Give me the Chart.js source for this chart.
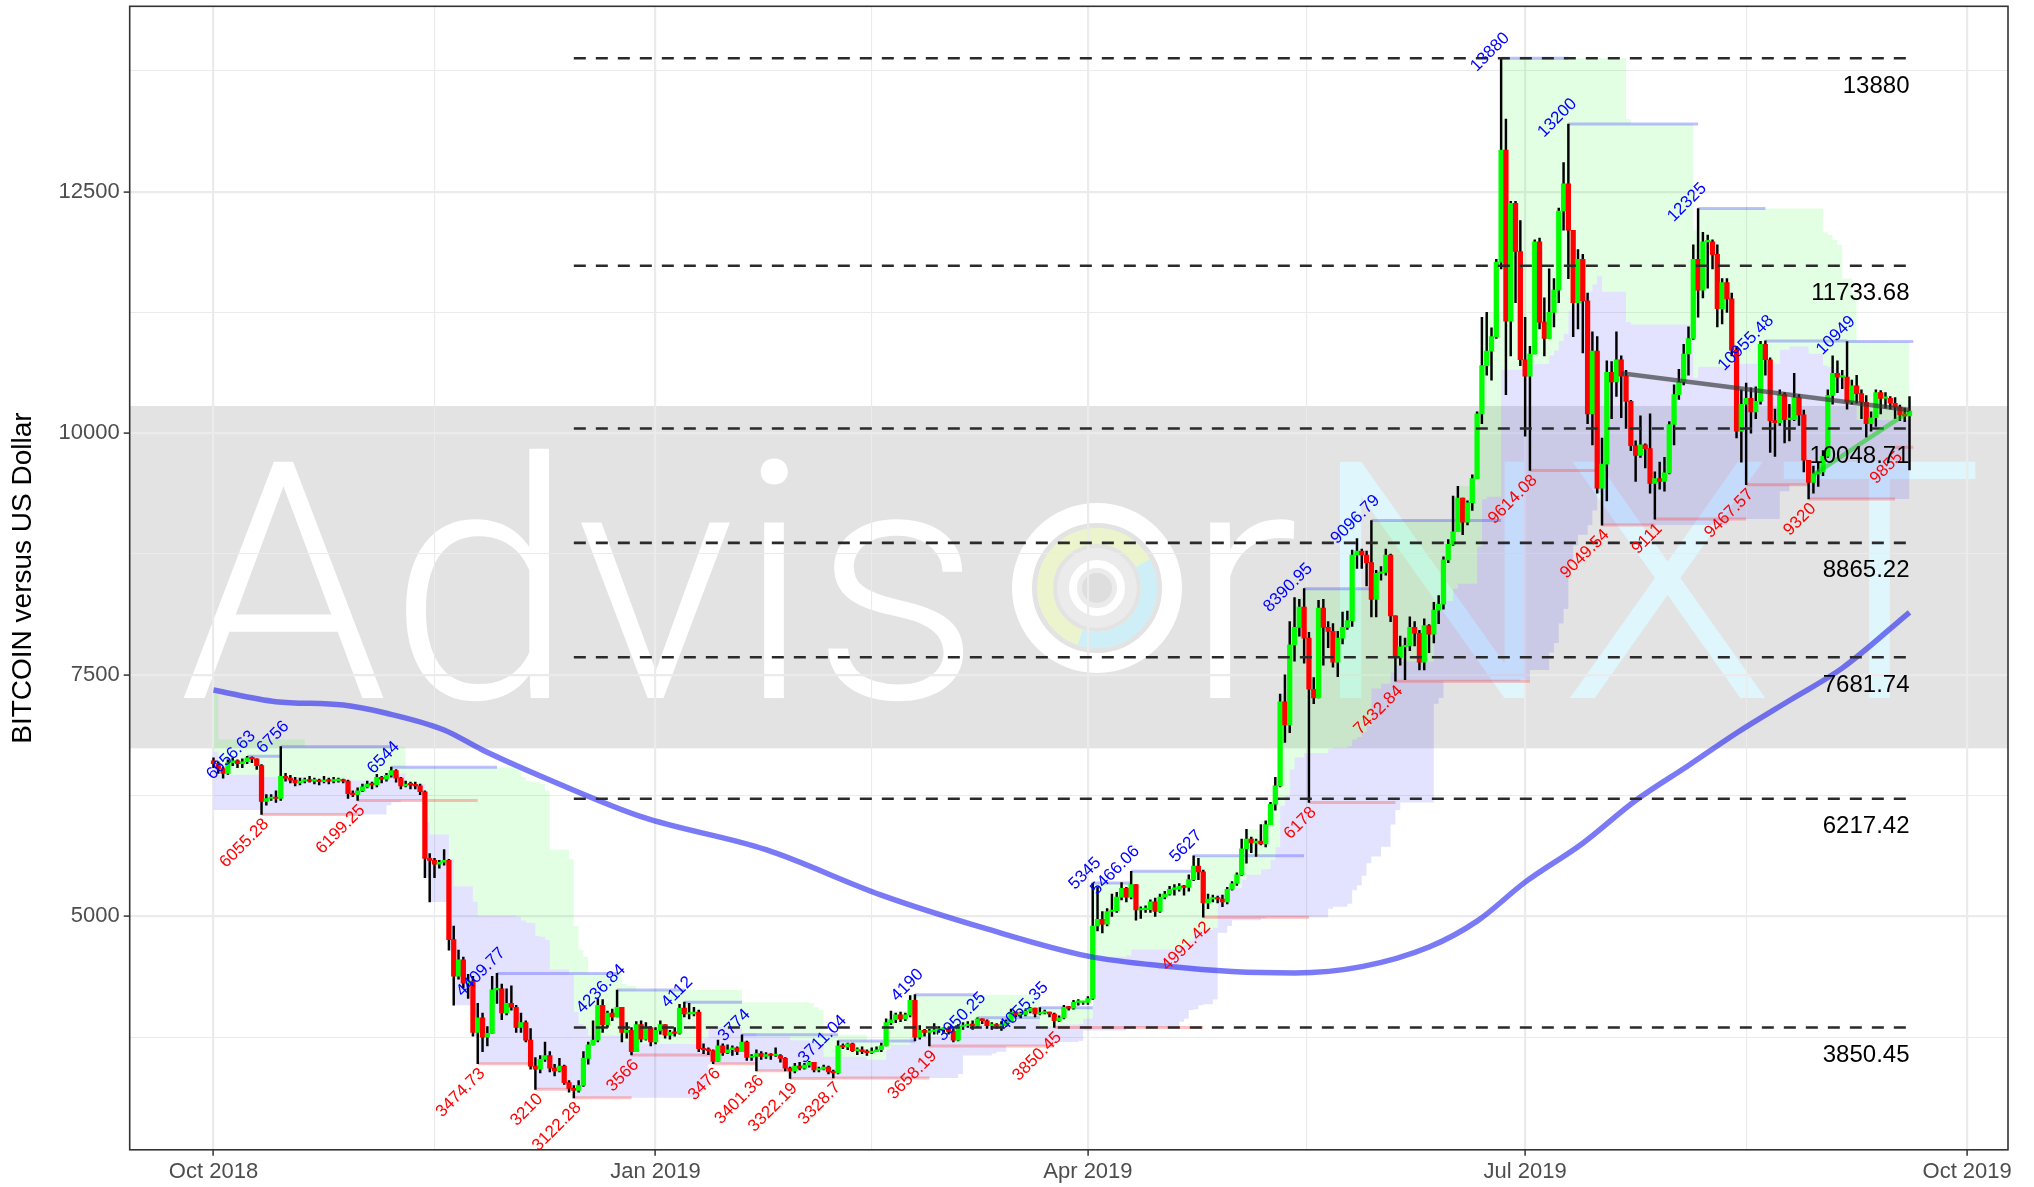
<!DOCTYPE html>
<html>
<head>
<meta charset="utf-8">
<title>BITCOIN versus US Dollar</title>
<script src="https://cdn.jsdelivr.net/npm/chart.js@4.4.1/dist/chart.umd.min.js"></script>
<style>
  html, body { margin: 0; padding: 0; background: #ffffff; }
  canvas { display: block; }
</style>
</head>
<body>
<canvas id="btcChart" width="2034" height="1187"></canvas>
<script>
// day 0 = 1 Oct 2018, one candle a day up to 19 Sep 2019 (day 353)
const firstOpen = 6610;

const closes = [
  // Oct 2018
  6580, 6530, 6480, 6590, 6610, 6580, 6600, 6640, 6630, 6560, 6190, 6220, 6230, 6220, 6450, 6430, 6410, 6380, 6400, 6410, 6400, 6405, 6395, 6410, 6400, 6405, 6410, 6400, 6270, 6260, 6300,
  // Nov
  6340, 6370, 6360, 6440, 6420, 6460, 6510, 6430, 6350, 6370, 6360, 6350, 6290, 5600, 5580, 5540, 5560, 5580, 4760, 4380, 4550, 4310, 4330, 3800, 3950, 3750, 3790, 4240, 4250, 4000,
  // Dec
  4100, 4060, 3850, 3900, 3720, 3450, 3420, 3520, 3560, 3430, 3400, 3450, 3280, 3220, 3200, 3250, 3530, 3670, 3720, 4080, 3880, 4000, 3960, 4060, 3800, 3820, 3600, 3880, 3730, 3850, 3700,
  // Jan 2019
  3820, 3880, 3770, 3800, 3790, 4050, 3990, 3990, 4010, 3630, 3620, 3610, 3500, 3660, 3590, 3620, 3640, 3600, 3700, 3540, 3550, 3580, 3550, 3570, 3560, 3560, 3530, 3430, 3400, 3450, 3430,
  // Feb
  3460, 3490, 3410, 3420, 3440, 3390, 3380, 3660, 3650, 3680, 3610, 3620, 3600, 3590, 3600, 3620, 3660, 3900, 3930, 3980, 3940, 3980, 4130, 3750, 3820, 3800, 3810, 3820,
  // Mar
  3830, 3840, 3810, 3720, 3860, 3870, 3880, 3870, 3940, 3920, 3870, 3880, 3865, 3870, 3910, 4010, 3980, 3985, 4020, 4050, 3990, 4000, 4010, 3990, 3920, 3950, 4060, 4050, 4110, 4110, 4110,
  // Apr
  4150, 4900, 4970, 4920, 5050, 5060, 5200, 5290, 5200, 5330, 5066, 5070, 5070, 5150, 5050, 5200, 5230, 5280, 5280, 5310, 5300, 5380, 5520, 5460, 5140, 5180, 5190, 5180, 5150, 5280,
  // May
  5340, 5430, 5700, 5800, 5760, 5780, 5750, 5950, 6160, 6350, 7220, 6980, 7810, 7990, 8200, 7880, 7350, 7260, 8190, 7990, 7950, 7630, 7880, 7990, 8060, 8740, 8780, 8740, 8660, 8280, 8550,
  // Jun
  8560, 8740, 8110, 7680, 7790, 7800, 7990, 7930, 7630, 8010, 7920, 8170, 8230, 8690, 8850, 8980, 9330, 9080, 9280, 9530, 10200, 10700, 10850, 11000, 11770, 12930, 11160, 12380, 11880, 10760,
  // Jul
  10590, 10820, 11980, 11150, 10980, 11250, 11480, 12300, 12580, 12100, 11350, 11800, 11370, 10200, 10850, 9430, 9680, 10630, 10530, 10760, 10590, 10330, 9870, 9770, 9880, 9840, 9480, 9530, 9500, 9590, 10090,
  // Aug
  10400, 10530, 10820, 10980, 11800, 11480, 11980, 11980, 11850, 11290, 11560, 11390, 10860, 10020, 10300, 10360, 10220, 10330, 10920, 10760, 10130, 10110, 10400, 10140, 10140, 10370, 10190, 9720, 9490, 9580, 9600,
  // Sep
  9760, 10390, 10620, 10580, 10580, 10320, 10490, 10410, 10320, 10100, 10160, 10420, 10360, 10360, 10310, 10270, 10190, 10180, 10230
];

const highs = [
  6640, 6600, 6545, 6620, 6640, 6620, 6630, 6656.63, 6650, 6630, 6570, 6260, 6260, 6300, 6756, 6480, 6460, 6440, 6430, 6430, 6450, 6430, 6420, 6450, 6430, 6440, 6430, 6420, 6410, 6300, 6330,
  6370, 6400, 6390, 6470, 6450, 6480, 6544, 6520, 6440, 6400, 6390, 6390, 6370, 6300, 5650, 5600, 5580, 5690, 5590, 4900, 4650, 4580, 4400, 4380, 4100, 4000, 3860, 4380, 4409.77, 4300,
  4250, 4280, 4080, 4000, 3920, 3840, 3540, 3560, 3700, 3600, 3470, 3530, 3460, 3300, 3250, 3300, 3600, 3700, 3920, 4150, 4140, 4020, 4040, 4236.84, 4060, 3900, 3850, 3910, 3920, 3900, 3860,
  3850, 3920, 3880, 3820, 3850, 4090, 4112, 4100, 4060, 4030, 3680, 3640, 3620, 3720, 3680, 3670, 3660, 3650, 3774, 3710, 3570, 3620, 3600, 3590, 3580, 3640, 3570, 3540, 3440, 3480, 3490,
  3480, 3500, 3490, 3440, 3460, 3450, 3410, 3711.04, 3680, 3690, 3690, 3640, 3650, 3620, 3640, 3650, 3690, 3940, 4020, 4000, 4010, 4000, 4180, 4190, 3870, 3830, 3830, 3890,
  3860, 3850, 3850, 3830, 3880, 3900, 3910, 3920, 3950.25, 3940, 3930, 3900, 3890, 3910, 3930, 4040, 4010, 4010, 4030, 4060, 4052, 4055.35, 4030, 4010, 4000, 3970, 4080, 4070, 4130, 4140, 4120,
  4170, 5345, 5300, 5050, 5080, 5230, 5250, 5350, 5300, 5466.06, 5330, 5100, 5110, 5170, 5190, 5230, 5260, 5310, 5330, 5340, 5320, 5430, 5627, 5600, 5480, 5230, 5220, 5210, 5220, 5300,
  5360, 5450, 5800, 5900, 5820, 5800, 5950, 5990, 6180, 6440, 7300, 7500, 8050, 8300, 8280, 8390.95, 7940, 7470, 8270, 8280, 8050, 8030, 7950, 8150, 8160, 8790, 8910, 8800, 8780, 9096.79, 8580,
  8620, 8800, 8750, 8110, 7900, 7880, 8100, 8050, 7960, 8080, 8020, 8250, 8320, 8720, 8900, 9350, 9450, 9330, 9300, 9570, 10220, 11200, 11250, 11090, 11800, 13880, 13250, 12400, 12400, 12200,
  11200, 10900, 12000, 12020, 11400, 11700, 11600, 12330, 12800, 13200, 12100, 11900, 11850, 11450, 11050, 11000, 9950, 10750, 10740, 11050, 10800, 10650, 10340, 9920, 10180, 9890, 10200, 9600, 9700, 9750, 10120,
  10500, 10660, 10920, 11100, 11950, 12325, 12080, 12050, 12000, 11950, 11600, 11600, 11450, 10900, 10450, 10520, 10470, 10480, 10950, 10955.48, 10780, 10250, 10450, 10420, 10300, 10620, 10400, 10240, 9720, 9660, 9700,
  9820, 10450, 10800, 10750, 10650, 10949, 10550, 10600, 10450, 10390, 10220, 10450, 10440, 10420, 10380, 10370, 10290, 10260, 10380
];

const lows = [
  6540, 6480, 6430, 6470, 6560, 6540, 6540, 6580, 6590, 6520, 6055.28, 6150, 6200, 6180, 6200, 6400, 6380, 6350, 6360, 6380, 6390, 6370, 6360, 6380, 6370, 6380, 6390, 6380, 6220, 6240, 6199.25,
  6290, 6330, 6320, 6340, 6380, 6400, 6440, 6390, 6320, 6340, 6320, 6320, 6260, 5400, 5150, 5400, 5500, 5530, 4650, 4080, 4350, 4260, 4150, 3760, 3474.73, 3600, 3660, 3790, 4100, 3930,
  3980, 4030, 3800, 3800, 3700, 3420, 3210, 3380, 3500, 3390, 3350, 3390, 3260, 3180, 3122.28, 3180, 3240, 3470, 3670, 3700, 3800, 3850, 3920, 3960, 3700, 3740, 3566, 3600, 3700, 3720, 3660,
  3680, 3780, 3740, 3730, 3760, 3780, 3960, 3940, 3970, 3600, 3580, 3570, 3476, 3500, 3560, 3580, 3560, 3570, 3600, 3510, 3510, 3401.36, 3520, 3530, 3520, 3550, 3490, 3400, 3322.19, 3380, 3410,
  3420, 3440, 3390, 3390, 3410, 3370, 3328.7, 3370, 3630, 3620, 3600, 3570, 3580, 3560, 3580, 3600, 3600, 3660, 3880, 3900, 3910, 3920, 3960, 3710, 3730, 3760, 3658.19, 3780,
  3800, 3800, 3780, 3700, 3710, 3830, 3850, 3830, 3860, 3890, 3840, 3830, 3840, 3820, 3860, 3910, 3960, 3950, 3970, 4000, 3960, 3980, 3990, 3960, 3850.45, 3910, 3940, 4030, 4040, 4080, 4090,
  4090, 4140, 4850, 4830, 4900, 5000, 5040, 5170, 5150, 5180, 4960, 4980, 5040, 5040, 5000, 5040, 5180, 5220, 5220, 5260, 5220, 5260, 5370, 5380, 4991.42, 5080, 5150, 5140, 5100, 5130,
  5270, 5320, 5420, 5550, 5660, 5620, 5740, 5720, 5950, 6100, 6340, 6800, 6900, 7640, 7900, 7620, 6178, 7200, 7260, 7600, 7780, 7580, 7480, 7820, 7970, 8000, 8600, 8600, 8420, 8100, 8100,
  8480, 8530, 8050, 7432.84, 7600, 7450, 7750, 7800, 7550, 7550, 7730, 7830, 8030, 8180, 8660, 8840, 8980, 8950, 9050, 9200, 9530, 10100, 10600, 10550, 10980, 11700, 10400, 10800, 11350, 10700,
  9970, 9614.08, 10820, 11080, 10800, 10980, 11100, 11350, 12100, 11600, 11000, 11080, 10830, 10100, 9880, 9380, 9049.54, 9300, 10150, 10380, 10160, 10050, 9820, 9500, 9750, 9640, 9380, 9111, 9420, 9400, 9580,
  9880, 10350, 10500, 10600, 10970, 11200, 11400, 11500, 11700, 11100, 11130, 11250, 10800, 9950, 9700, 9467.57, 10000, 10150, 10300, 10600, 9800, 9760, 10080, 9900, 9920, 10130, 10080, 9600, 9320, 9380, 9450,
  9560, 9750, 10300, 10420, 10460, 10250, 10300, 10310, 10150, 9960, 10020, 10070, 10200, 10260, 10250, 10150, 10130, 10120, 9620
];

// 200-day moving average
const maDays = [0, 13, 27, 36, 48, 56, 70, 89, 115, 139, 161, 182, 199, 212, 225, 239, 253, 263, 273, 285, 296, 307, 317, 328, 339, 353];
const maVals = [7343, 7222, 7187, 7102, 6929, 6722, 6411, 6032, 5690, 5220, 4870, 4589, 4481, 4430, 4415, 4480, 4683, 4951, 5354, 5757, 6200, 6562, 6898, 7234, 7569, 8147];

// 26-day channel, breakpoints (value holds until the next day listed)
const upperDays = [0, 1, 19, 40, 63, 64, 65, 66, 68, 69, 70, 74, 75, 76, 77, 78, 85, 86, 88, 110, 124, 125, 126, 127, 136, 140, 141, 145, 146, 172, 183, 191, 204, 214, 215, 218, 220, 221, 222, 223, 224, 225, 227, 241, 258, 259, 263, 264, 265, 268, 294, 295, 308, 309, 335, 336, 337, 338, 339, 341, 342, 349, 353];
const upperVals = [7310, 6830, 6756, 6544, 6520, 6440, 6400, 6390, 6370, 6300, 5690, 5590, 4900, 4650, 4580, 4409.77, 4300, 4280, 4236.84, 4112, 4100, 4060, 4030, 3774, 3711.04, 3940, 4020, 4180, 4190, 4060, 5345, 5466.06, 5627, 5800, 5900, 5990, 6180, 6440, 7300, 7500, 8050, 8300, 8390.95, 9096.79, 9350, 9450, 10220, 11200, 11250, 13880, 13250, 13200, 12100, 12325, 12080, 12050, 12000, 11950, 11600, 11450, 10955.48, 10949, 10949];
const lowerDays = [0, 10, 36, 37, 39, 44, 45, 49, 50, 54, 55, 67, 75, 101, 102, 103, 104, 113, 120, 146, 155, 156, 162, 163, 165, 175, 180, 181, 190, 201, 202, 203, 204, 205, 206, 208, 209, 211, 212, 218, 219, 232, 233, 236, 237, 238, 239, 240, 241, 243, 245, 246, 247, 254, 255, 256, 272, 274, 278, 279, 280, 281, 282, 283, 284, 286, 287, 288, 289, 315, 326, 328, 332, 353];
const lowerVals = [6100, 6055.28, 6150, 6180, 6199.25, 5400, 5150, 4650, 4080, 3760, 3474.73, 3210, 3122.28, 3180, 3240, 3470, 3476, 3401.36, 3322.19, 3328.7, 3370, 3560, 3580, 3600, 3658.19, 3700, 3710, 3820, 3850.45, 3910, 3940, 4030, 4040, 4080, 4090, 4140, 4830, 4900, 4960, 4980, 4991.42, 5080, 5100, 5130, 5270, 5320, 5420, 5550, 5620, 5720, 5950, 6100, 6178, 7200, 7260, 7432.84, 7450, 7550, 7730, 7830, 8030, 8180, 8660, 8840, 8950, 9050, 9200, 9380, 9049.54, 9111, 9400, 9467.57, 9320, 9320];

// swing highs / lows with their labels
const hiDays = [7, 14, 37, 59, 84, 98, 110, 130, 146, 159, 172, 183, 191, 204, 227, 241, 268, 282, 309, 323, 340];
const hiVals = [6656.63, 6756, 6544, 4409.77, 4236.84, 4112, 3774, 3711.04, 4190, 3950.25, 4055.35, 5345, 5466.06, 5627, 8390.95, 9096.79, 13880, 13200, 12325, 10955.48, 10949];
const loDays = [10, 30, 55, 67, 75, 87, 104, 113, 120, 129, 149, 175, 206, 228, 246, 274, 289, 300, 319, 332, 350];
const loVals = [6055.28, 6199.25, 3474.73, 3210, 3122.28, 3566, 3476, 3401.36, 3322.19, 3328.7, 3658.19, 3850.45, 4991.42, 6178, 7432.84, 9614.08, 9049.54, 9111, 9467.57, 9320, 9855];

// retracement levels
const fibLevels = [13880, 11733.68, 10048.71, 8865.22, 7681.74, 6217.42, 3850.45];
const fibFrom = 75, fibTo = 353;

// trend lines
const trendDays = [293, 353];
const trendVals = [10620, 10240];
const riseDays = [333, 353];
const riseVals = [9570, 10225];

// grey banner behind the watermark
const bannerRange = [6739, 10282];

// axes
const yMajor = [5000, 7500, 10000, 12500];
const yMinor = [3750, 6250, 8750, 11250, 13750];
const xTickDays = [0, 92, 182, 273, 365];
const xTickLabels = ['Oct 2018', 'Jan 2019', 'Apr 2019', 'Jul 2019', 'Oct 2019'];
const xMinorDays = [46, 137, 227.5, 319];
const xMin = -17.44, xMax = 373.5;

if (closes.length !== highs.length || closes.length !== lows.length) {
  throw new Error('ohlc length mismatch ' + closes.length + ' ' + highs.length + ' ' + lows.length);
}
const opens = closes.map((c, i) => (i === 0 ? firstOpen : closes[i - 1]));
opens.forEach((o, i) => {
  const top = Math.max(o, closes[i]), bot = Math.min(o, closes[i]);
  if (highs[i] < top || lows[i] > bot) throw new Error('bad candle at day ' + i);
});

const lastDay = closes.length - 1;
const loAll = Math.min(...lows), hiAll = Math.max(...highs);
const yPad = (hiAll - loAll) * 0.05;

const bodies = closes.map((c, i) => ({ x: i, y: [opens[i], c] }));
const wicks = closes.map((c, i) => ({ x: i, y: [lows[i], highs[i]] }));
const bodyColors = closes.map((c, i) => (c >= opens[i] ? '#00ff00' : '#ff0000'));

function held(days, vals, d) {
  let v = vals[0];
  for (let i = 0; i < days.length && days[i] <= d; i++) v = vals[i];
  return v;
}
const bandDays = [...new Set([...upperDays, ...lowerDays])].sort((a, b) => a - b);
const upperPts = bandDays.map(d => ({ x: d, y: held(upperDays, upperVals, d) }));
const lowerPts = bandDays.map(d => ({ x: d, y: held(lowerDays, lowerVals, d) }));
const midPts = bandDays.map((d, i) => ({ x: d, y: (upperPts[i].y + lowerPts[i].y) / 2 }));

function segments(days, vals) {
  const pts = [];
  days.forEach((d, i) => {
    const end = i + 1 < days.length ? days[i + 1] : lastDay + 0.8;
    pts.push({ x: d, y: vals[i] }, { x: end, y: vals[i] }, { x: end, y: null });
  });
  return pts;
}
const fibPts = [];
fibLevels.forEach(v => fibPts.push({ x: fibFrom, y: v }, { x: fibTo, y: v }, { x: fibTo, y: null }));

const FONT = '"Liberation Sans", Arial, Helvetica, sans-serif';
Chart.defaults.font.family = FONT;

// watermark: grey banner with AdvisorNXT lettering
function inkText(ctx, str, left, right, base, capH, color) {
  ctx.save();
  ctx.font = '300 100px Roboto, "Open Sans", sans-serif';
  const m = ctx.measureText(str);
  const cap = ctx.measureText('H').actualBoundingBoxAscent;
  const sx = (right - left) / (m.actualBoundingBoxLeft + m.actualBoundingBoxRight);
  const sy = capH / cap;
  ctx.translate(left + m.actualBoundingBoxLeft * sx, base);
  ctx.scale(sx, sy);
  ctx.fillStyle = color;
  ctx.textAlign = 'left';
  ctx.textBaseline = 'alphabetic';
  ctx.fillText(str, 0, 0);
  ctx.restore();
}

const backdrop = {
  id: 'backdrop',
  beforeDraw(chart) {
    const { ctx, chartArea: a, scales: { y } } = chart;
    ctx.save();
    ctx.fillStyle = '#ffffff';
    ctx.fillRect(0, 0, chart.width, chart.height);
    const top = y.getPixelForValue(bannerRange[1]);
    const bot = y.getPixelForValue(bannerRange[0]);
    ctx.fillStyle = 'rgba(0,0,0,0.11)';
    ctx.fillRect(a.left, top, a.right - a.left, bot - top);

    inkText(ctx, 'Advis', 182, 966, 698, 236, '#ffffff');
    inkText(ctx, 'r', 1208, 1297, 698, 236, '#ffffff');
    inkText(ctx, 'NXT', 1340, 1978, 698, 236, 'rgb(222,246,252)');

    // round logo in place of the "o"
    const cx = 1097, cy = 588;
    ctx.lineWidth = 20;
    ctx.strokeStyle = '#ffffff';
    ctx.beginPath(); ctx.arc(cx, cy, 75, 0, Math.PI * 2); ctx.stroke();
    ctx.lineWidth = 16;
    ctx.strokeStyle = 'rgb(236,244,206)';
    ctx.beginPath(); ctx.arc(cx, cy, 52, 0, Math.PI * 2); ctx.stroke();
    ctx.strokeStyle = 'rgb(206,238,248)';
    ctx.beginPath(); ctx.arc(cx, cy, 52, -0.5, 1.9); ctx.stroke();
    ctx.fillStyle = '#ebebeb';
    ctx.beginPath(); ctx.arc(cx, cy, 40, 0, Math.PI * 2); ctx.fill();
    ctx.lineWidth = 8;
    ctx.strokeStyle = '#ffffff';
    ctx.beginPath(); ctx.arc(cx, cy, 24, 0, Math.PI * 2); ctx.stroke();
    ctx.fillStyle = '#dedede';
    ctx.beginPath(); ctx.arc(cx, cy, 15, 0, Math.PI * 2); ctx.fill();
    ctx.restore();
  }
};

function rotText(ctx, str, px, py, color) {
  ctx.save();
  ctx.translate(px, py);
  ctx.rotate(-Math.PI / 4);
  ctx.fillStyle = color;
  ctx.fillText(str, 0, 0);
  ctx.restore();
}

const annotations = {
  id: 'annotations',
  afterDatasetsDraw(chart) {
    const { ctx, scales: { x, y } } = chart;
    ctx.save();
    ctx.font = '17px ' + FONT;
    ctx.textAlign = 'right';
    ctx.textBaseline = 'alphabetic';
    hiDays.forEach((d, i) => {
      rotText(ctx, String(hiVals[i]), x.getPixelForValue(d) + 9, y.getPixelForValue(hiVals[i]) - 19.5, '#0000ff');
    });
    loDays.forEach((d, i) => {
      rotText(ctx, String(loVals[i]), x.getPixelForValue(d) + 8, y.getPixelForValue(loVals[i]) + 10.5, '#ff0000');
    });
    ctx.font = '24px ' + FONT;
    ctx.fillStyle = '#000000';
    fibLevels.forEach(v => {
      ctx.fillText(String(v), x.getPixelForValue(fibTo), y.getPixelForValue(v) + 34.5);
    });
    ctx.restore();
  },
  afterDraw(chart) {
    const { ctx, chartArea: a } = chart;
    ctx.save();
    ctx.strokeStyle = '#333333';
    ctx.lineWidth = 1.6;
    ctx.strokeRect(a.left, a.top, a.right - a.left, a.bottom - a.top);
    ctx.restore();
  }
};

const isMajorX = v => xTickDays.includes(v);
const isMajorY = v => yMajor.includes(v);

new Chart(document.getElementById('btcChart'), {
  type: 'bar',
  data: {
    datasets: [
      {
        type: 'line', data: upperPts, stepped: true, borderColor: 'transparent', borderWidth: 0,
        pointRadius: 0, fill: '+1', backgroundColor: 'rgba(0,255,0,0.11)', order: 20
      },
      {
        type: 'line', data: midPts, stepped: true, borderColor: 'transparent', borderWidth: 0,
        pointRadius: 0, fill: '+1', backgroundColor: 'rgba(0,0,255,0.11)', order: 20
      },
      {
        type: 'line', data: lowerPts, stepped: true, borderColor: 'transparent', borderWidth: 0,
        pointRadius: 0, fill: false, order: 20
      },
      {
        type: 'line', data: segments(hiDays, hiVals), borderColor: 'rgba(60,60,255,0.32)', borderWidth: 3,
        pointRadius: 0, fill: false, spanGaps: false, order: 15
      },
      {
        type: 'line', data: segments(loDays, loVals), borderColor: 'rgba(255,60,60,0.32)', borderWidth: 3,
        pointRadius: 0, fill: false, spanGaps: false, order: 15
      },
      {
        type: 'bar', data: wicks, backgroundColor: '#000000', barThickness: 1.8,
        grouped: false, borderWidth: 0, order: 12
      },
      {
        type: 'bar', data: bodies, backgroundColor: bodyColors, barThickness: 4.6,
        grouped: false, borderWidth: 0, minBarLength: 1.5, order: 11
      },
      {
        type: 'line', data: maDays.map((d, i) => ({ x: d, y: maVals[i] })),
        borderColor: 'rgba(40,40,240,0.62)', borderWidth: 5.5, cubicInterpolationMode: 'monotone',
        pointRadius: 0, fill: false, order: 5
      },
      {
        type: 'line', data: fibPts, borderColor: '#2a2a2a', borderWidth: 2.6, borderDash: [12, 10],
        pointRadius: 0, fill: false, spanGaps: false, order: 4
      },
      {
        type: 'line', data: trendDays.map((d, i) => ({ x: d, y: trendVals[i] })),
        borderColor: 'rgba(50,50,50,0.65)', borderWidth: 4.5, pointRadius: 0, fill: false, order: 3
      },
      {
        type: 'line', data: riseDays.map((d, i) => ({ x: d, y: riseVals[i] })),
        borderColor: 'rgba(0,210,0,0.5)', borderWidth: 4.5, pointRadius: 0, fill: false, order: 3
      }
    ]
  },
  options: {
    responsive: false,
    animation: false,
    devicePixelRatio: 1,
    layout: { padding: { left: 0, right: 26, top: 6.3, bottom: 0 } },
    plugins: { legend: { display: false }, tooltip: { enabled: false } },
    scales: {
      x: {
        type: 'linear', min: xMin, max: xMax, offset: false,
        afterBuildTicks: s => {
          s.ticks = [...xTickDays, ...xMinorDays].sort((a, b) => a - b).map(v => ({ value: v }));
        },
        afterFit: s => { s.height = 37.2; s.paddingLeft = 0; s.paddingRight = 0; },
        border: { display: false },
        grid: {
          offset: false,
          color: '#ebebeb',
          lineWidth: c => (c.tick && isMajorX(c.tick.value) ? 2.2 : 1.1),
          tickLength: 6,
          tickWidth: 1.5,
          tickColor: c => (c.tick && isMajorX(c.tick.value) ? '#333333' : 'rgba(0,0,0,0)')
        },
        ticks: {
          autoSkip: false, maxRotation: 0, minRotation: 0, padding: 3,
          color: '#4d4d4d', font: { size: 22 },
          callback: v => { const k = xTickDays.indexOf(v); return k >= 0 ? xTickLabels[k] : ''; }
        }
      },
      y: {
        type: 'linear', min: loAll - yPad, max: hiAll + yPad, beginAtZero: false,
        afterBuildTicks: s => {
          s.ticks = [...yMajor, ...yMinor].sort((a, b) => a - b).map(v => ({ value: v }));
        },
        afterFit: s => { s.width = 129.7; s.paddingTop = 0; s.paddingBottom = 0; },
        border: { display: false },
        grid: {
          color: '#ebebeb',
          lineWidth: c => (c.tick && isMajorY(c.tick.value) ? 2.2 : 1.1),
          tickLength: 6,
          tickWidth: 1.5,
          tickColor: c => (c.tick && isMajorY(c.tick.value) ? '#333333' : 'rgba(0,0,0,0)')
        },
        ticks: {
          padding: 4, color: '#4d4d4d', font: { size: 22 },
          callback: v => (isMajorY(v) ? String(v) : '')
        },
        title: {
          display: true, text: 'BITCOIN versus US Dollar', color: '#000000',
          font: { size: 28 }, padding: { top: 6, bottom: 0 }
        }
      }
    }
  },
  plugins: [backdrop, annotations]
});
</script>
</body>
</html>
